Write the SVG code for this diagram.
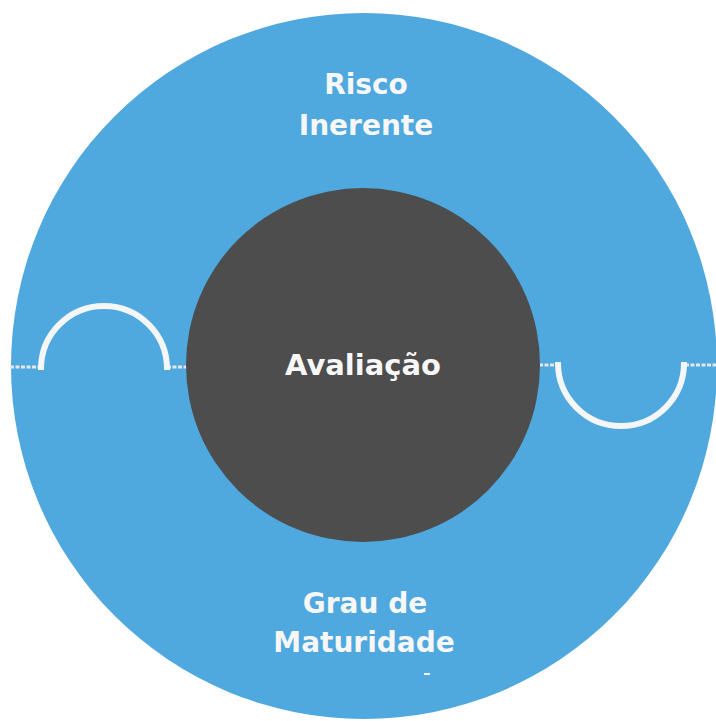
<svg xmlns="http://www.w3.org/2000/svg" width="716" height="721" viewBox="0 0 716 721">
  <style>
    .lbl { font-family: "DejaVu Sans", Verdana, sans-serif; font-weight: bold; fill: #f7f7f7; text-anchor: middle; }
    .arc { fill: none; stroke: #f4f6f8; stroke-width: 6; }
    .seam { fill: none; stroke: #e2e8ec; stroke-width: 3; stroke-dasharray: 4 1.5; }
  </style>
  <rect width="716" height="721" fill="#ffffff"/>
  <g id="outer">
    <circle cx="364" cy="366" r="353" fill="#4FA8DE"/>
    <text class="lbl" x="366" y="94" font-size="28">Risco</text>
    <text class="lbl" x="366" y="135" font-size="28">Inerente</text>
    <text class="lbl" x="365" y="613" font-size="28">Grau de</text>
    <text class="lbl" x="364" y="652" font-size="28">Maturidade</text>
    <rect x="424" y="673" width="6" height="2" fill="#f2f5f7"/>
  </g>
  <g id="connectors">
    <path class="seam" d="M10,367 H41 M167,367 H188"/>
    <path class="arc" d="M41,370 V369 A63,63 0 0 1 167,369 V370"/>
    <path class="seam" d="M539,365 H557 M685,365 H716"/>
    <path class="arc" d="M558,362 V363 A63,63 0 0 0 684,363 V362"/>
  </g>
  <g id="center">
    <circle cx="363" cy="365" r="177" fill="#4D4D4D"/>
    <text class="lbl" x="363" y="375" font-size="29">Avaliação</text>
  </g>
</svg>
